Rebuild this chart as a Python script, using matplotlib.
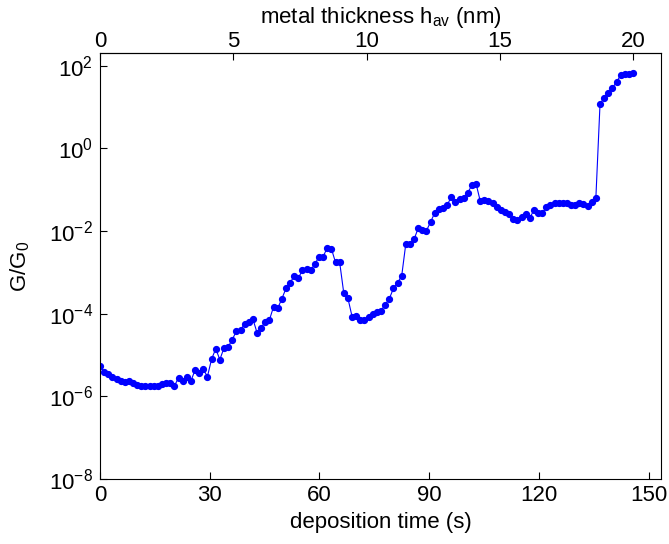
import numpy as np
import matplotlib.pyplot as plt
from matplotlib.ticker import NullLocator, FixedLocator

plt.rcParams['font.family'] = ['Liberation Sans', 'DejaVu Sans']
plt.rcParams['mathtext.fontset'] = 'custom'
plt.rcParams['mathtext.rm'] = 'Liberation Sans'
plt.rcParams['mathtext.it'] = 'Liberation Sans:italic'

# conductance log10(G/G0), one sample every dt seconds
logG = [
    -5.26, -5.42, -5.47, -5.52, -5.58, -5.63, -5.66, -5.64, -5.68, -5.72,
    -5.74, -5.76, -5.76, -5.76, -5.74, -5.70, -5.67, -5.67, -5.75, -5.55,
    -5.64, -5.52, -5.63, -5.36, -5.44, -5.35, -5.52, -5.10, -4.85, -5.11,
    -4.83, -4.80, -4.63, -4.42, -4.39, -4.25, -4.19, -4.13, -4.46, -4.34,
    -4.19, -4.15, -3.83, -3.87, -3.64, -3.39, -3.25, -3.09, -3.14, -2.94,
    -2.93, -2.94, -2.80, -2.62, -2.62, -2.40, -2.43, -2.76, -2.76, -3.51,
    -3.63, -4.07, -4.05, -4.15, -4.15, -4.08, -4.01, -3.95, -3.93, -3.78,
    -3.64, -3.39, -3.25, -3.09, -2.31, -2.31, -2.20, -1.93, -1.97, -1.99,
    -1.78, -1.56, -1.46, -1.44, -1.37, -1.18, -1.30, -1.22, -1.19, -1.07,
    -0.89, -0.85, -1.27, -1.25, -1.27, -1.33, -1.41, -1.49, -1.55, -1.59,
    -1.71, -1.73, -1.65, -1.59, -1.69, -1.49, -1.56, -1.57, -1.43, -1.37,
    -1.33, -1.31, -1.31, -1.33, -1.36, -1.36, -1.33, -1.35, -1.39, -1.29,
    -1.19, 1.07, 1.23, 1.35, 1.47, 1.60, 1.78, 1.80, 1.81, 1.82,
]
dt = 1.13          # sampling interval (s)
t_end_nm = 20.0    # thickness reached at the last sample

G = 10.0 ** np.array(logG)
t = dt * np.arange(len(G))
rate = t_end_nm / t[-1]

fs = 16

fig = plt.figure(figsize=(6.69, 5.44), dpi=100)
ax = fig.add_axes([0.1495, 0.1195, 0.8385, 0.7825])

ax.semilogy(t, G, '-o', color='#0000ff', lw=0.8, ms=4.2, mec='#0000ff', mfc='#0000ff')

ax.set_xlim(0, 153.4)
ax.set_ylim(1e-8, 200)
ax.set_xticks([0, 30, 60, 90, 120, 150])
ax.yaxis.set_major_locator(FixedLocator([1e-8, 1e-6, 1e-4, 1e-2, 1, 1e2]))
ax.yaxis.set_minor_locator(NullLocator())
ax.tick_params(direction='in', length=5, width=0.8, labelsize=fs,
               top=False, right=False)
ax.tick_params(axis='x', pad=4)
ax.tick_params(axis='y', pad=5)
ax.set_xlabel('deposition time (s)', fontsize=fs, labelpad=5)
ax.set_ylabel('G/G$_0$', fontsize=fs, labelpad=12)

for s in ax.spines.values():
    s.set_linewidth(0.8)

top = ax.secondary_xaxis('top', functions=(lambda x: x * rate, lambda h: h / rate))
top.set_xticks([0, 5, 10, 15, 20])
top.tick_params(direction='in', length=5, width=0.8, labelsize=fs, pad=1)
top.set_xlabel('metal thickness h$_{\\rm av}$ (nm)', fontsize=fs, labelpad=6)

fig.savefig('out.png', dpi=100)
